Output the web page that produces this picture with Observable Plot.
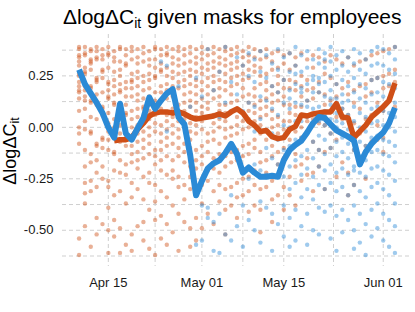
<!DOCTYPE html>
<html><head><meta charset="utf-8">
<script src="https://cdn.jsdelivr.net/npm/d3@7"></script>
<script src="https://cdn.jsdelivr.net/npm/@observablehq/plot@0.6"></script>
<style>
body{margin:0;background:#fff;font-family:"Liberation Sans",Arial,sans-serif;}
#wrap{position:relative;width:415px;height:312px;overflow:hidden;}
#title{position:absolute;left:63px;top:6px;font-size:21px;line-height:22px;white-space:nowrap;color:#000;}
#title sub{font-size:14px;vertical-align:-4px;line-height:0;}
#ylab{position:absolute;left:10px;top:151px;transform:translate(-50%,-50%) rotate(-90deg);font-size:18px;line-height:19px;white-space:nowrap;color:#000;}
#ylab sub{font-size:12.5px;vertical-align:-3px;line-height:0;}
#chart{position:absolute;left:0;top:0;}
</style></head><body>
<div id="wrap"><div id="chart"></div>
<div id="title">ΔlogΔC<sub>it</sub> given masks for employees</div>
<div id="ylab">ΔlogΔC<sub>it</sub></div></div>
<script>
// days: Apr 10 .. Jun 3 (55 days)
const startDay = "2020-04-10";
const nDays = 55;
const xTicks = ["2020-04-15","2020-05-01","2020-05-15","2020-06-01"];
const xMinor = ["2020-04-23","2020-05-08","2020-05-23T12:00"];
const yTicks = [0.25, 0, -0.25, -0.5];
const yMinor = [0.375, 0.125, -0.125, -0.375, -0.625];

// daily averaged lines
const blueLine = [0.28,0.21,0.165,0.12,0.07,0.0,-0.05,0.115,-0.03,-0.06,-0.005,0.045,0.145,0.09,0.13,0.165,0.185,0.05,0.015,-0.135,-0.33,-0.26,-0.2,-0.175,-0.16,-0.125,-0.08,-0.13,-0.22,-0.195,-0.22,-0.24,-0.24,-0.235,-0.24,-0.16,-0.11,-0.085,-0.065,-0.025,0.02,0.05,0.045,0.015,-0.015,-0.03,-0.045,-0.065,-0.18,-0.12,-0.08,-0.05,-0.025,0.02,0.095];
const orangeLine = [null,null,null,null,null,null,-0.065,-0.06,-0.06,-0.05,-0.01,0.02,0.055,0.07,0.075,0.075,0.07,0.075,0.065,0.05,0.04,0.045,0.05,0.055,0.065,0.055,0.075,0.09,0.07,0.03,0.01,-0.02,-0.015,-0.045,-0.055,-0.05,-0.01,0.005,0.06,0.055,0.065,0.07,0.075,0.075,0.115,0.05,0.045,-0.05,-0.02,0.01,0.05,0.075,0.1,0.13,0.215];

// individual observations per day (hundredths)
const orangePts = [
"39 38 35 34 32 30 26 25 22 20 18 17 14 8 0 -3 -8 -54 -62",
"39 36 35 29 27 26 21 20 18 15 13 9 3 -1 -11 -19 -27 -32 -37 -48",
"38 37 33 32 31 28 20 19 13 12 5 -2 -3 -13 -17 -26 -31 -58",
"39 37 34 33 24 23 22 16 12 11 4 -8 -9 -16 -22 -29 -44 -52",
"38 35 33 28 27 24 17 10 9 6 -5 -6 -10 -19 -25 -47",
"39 36 35 29 22 21 18 15 14 7 2 -2 -6 -11 -26 -29 -39 -50 -61",
"37 34 32 27 23 20 16 12 11 4 0 -4 -12 -13 -21 -33 -45 -53",
"39 38 32 28 25 21 18 17 9 5 1 -3 -7 -16 -22 -31 -49 -61",
"38 35 31 30 22 19 15 11 7 6 -1 -5 -9 -18 -23 -37 -57",
"39 37 33 26 23 22 19 15 8 4 0 -4 -9 -13 -17 -27 -34 -52 -60",
"38 34 31 27 24 20 16 13 9 5 1 -3 -7 -12 -16 -20 -30 -48",
"39 36 32 25 22 18 14 10 9 2 -2 -6 -10 -15 -24 -35 -46 -55",
"37 33 30 26 23 19 15 11 8 4 0 -4 -8 -13 -22 -27 -40 -59",
"39 38 33 29 25 24 17 13 10 6 2 -2 -11 -14 -18 -28 -36 -45 -62",
"38 35 31 28 27 20 17 13 9 1 -3 -7 -11 -16 -21 -31 -43 -54",
"39 36 35 29 25 21 18 14 6 3 -1 -5 -9 -14 -23 -34 -47 -57",
"38 34 31 27 24 20 16 15 9 5 1 -3 -8 -16 -21 -25 -38 -51",
"39 37 33 30 26 22 19 11 7 3 -1 -5 -10 -14 -24 -29 -42 -60",
"38 35 31 27 23 20 16 12 8 4 0 -8 -12 -17 -28 -35 -46",
"39 36 32 28 25 21 17 13 10 2 -2 -6 -10 -19 -24 -30 -49 -58",
"38 34 31 27 23 20 16 12 8 5 1 -3 -11 -16 -20 -33 -44 -55",
"39 36 33 29 26 22 18 14 10 7 3 -1 -9 -14 -18 -28 -37 -49",
"38 35 31 28 24 20 16 12 9 5 -3 -7 -12 -21 -26 -42",
"39 36 32 29 25 22 18 14 6 2 -2 -6 -15 -20 -31 -47",
"38 34 31 27 23 19 15 11 8 4 0 -8 -13 -22 -28 -36",
"39 37 33 30 26 22 18 11 7 3 -1 -5 -14 -19 -30 -40 -52",
"38 35 31 28 24 20 16 12 8 0 -4 -12 -17 -29 -38",
"39 36 32 29 25 21 13 9 5 1 -3 -11 -16 -27 -34 -44",
"37 34 30 26 23 19 15 7 3 -1 -9 -14 -25 -33",
"39 35 32 28 24 16 12 8 4 0 -8 -13 -24 -31 -41",
"38 34 30 27 19 15 11 7 3 -6 -10 -21 -28 -38",
"37 33 29 25 21 13 9 5 1 -3 -12 -17 -30 -40 -51",
"38 34 26 22 18 14 10 6 -2 -6 -16 -22 -29",
"36 32 28 20 16 12 8 4 0 -9 -14 -26 -35 -46",
"37 29 25 21 17 13 5 1 -3 -12 -18 -33",
"35 31 23 19 15 11 3 -1 -10 -15 -29 -40",
"36 28 23 19 11 7 3 -6 -11 -24 -33",
"34 30 22 18 10 6 -2 -13 -19 -38",
"36 25 20 15 10 0 -5 -18 -26",
"33 23 18 13 3 -2 -15 -23",
"35 29 19 14 4 -7 -22 -31",
"34 22 17 7 2 -11 -19",
"32 26 16 11 1 -12 -30",
"35 24 13 8 -3 -10",
"33 21 15 5 -6 -24",
"31 19 9 4 -17",
"34 22 16 6 -5 -22 -33",
"30 18 12 2 -11 -28",
"32 20 9 -3 -18",
"33 21 15 4 -9 -25",
"35 23 17 6 -7",
"36 24 12 1 -6",
"37 25 19 8 -5 -12",
"38 26 20 14",
"39 28 22 10"
];
const bluePts = [
"","","","","","","","","","","","","","","32",
"30 -2","","20","","10 -14","24 -30 -57","15 -38 -55","38 -39 -44","18 -46 -60","27 5 -42 -61",
"39 12 -52","22 -33 -55","34 16 -15 -48","30 8 -22 -38 -58","36 25 12 -25 -45",
"33 22 10 -2 -18 -50","37 27 15 4 -21 -36 -56","35 24 13 -10 -23 -39","31 20 9 -3 -15 -42 -60","38 28 17 6 -6 -18 -47",
"34 23 12 1 -11 -24 -38 -53","36 27 18 14 9 0 -9 -19 -30 -44 -58","39 30 26 21 12 3 -6 -16 -27 -40 -55","35 27 19 17 11 3 -5 -14 -23 -34 -48","37 29 21 13 10 5 -3 -11 -20 -30 -42 -57",
"33 25 23 17 9 1 -7 -15 -24 -35 -50","38 31 24 21 17 10 3 -4 -11 -19 -28 -39 -52","36 33 29 22 15 8 6 1 -6 -13 -21 -30 -41","39 32 25 18 14 11 4 -3 -10 -18 -27 -38 -54","35 28 21 14 7 3 0 -7 -14 -22 -31 -43 -60",
"37 30 23 16 12 9 2 -5 -12 -20 -29 -40 -51","34 27 20 13 6 -1 -4 -8 -15 -23 -33 -45","38 31 24 17 10 3 -4 -11 -19 -21 -28 -38 -50 -59","36 28 21 14 7 0 -7 -14 -17 -22 -31 -42 -56","33 26 19 12 5 -2 -9 -16 -24 -34 -47 -62",
"37 30 23 16 9 2 -5 -12 -20 -29 -40 -53","39 31 24 17 10 3 -4 -11 -19 -27 -37 -49","38 30 22 15 8 1 -6 -13 -21 -30 -42 -55","36 28 21 14 7 0 -7 -14 -23 -33 -45 -58","39 33 26 19 12 5 -2 -9 -17 -26 -37 -48 -61"
];

const ORANGE = "#cf4f17", BLUE = "#2b8ad6";
const days = d3.utcDay.range(new Date(startDay), d3.utcDay.offset(new Date(startDay), nDays));
const toPts = (arr, group) => arr.flatMap((s, i) => s.trim() === "" ? [] :
  s.trim().split(/\s+/).map(v => ({date: days[i], value: +v / 100, group})));
const ptsO = toPts(orangePts, "o");
const ptsB = toPts(bluePts, "b");
const lineB = days.map((d, i) => ({date: d, value: blueLine[i]}));
const lineO = days.map((d, i) => ({date: d, value: orangeLine[i]})).filter(d => d.value != null);

const grid = {stroke: "#cfcfcf", strokeWidth: 1, strokeDasharray: "4,3"};
const chart = Plot.plot({
  width: 415, height: 312,
  marginLeft: 62, marginRight: 4, marginTop: 34, marginBottom: 46,
  style: {fontFamily: "'Liberation Sans', Arial, sans-serif", fontSize: "13px", color: "#1a1a1a", background: "transparent"},
  x: {type: "utc", domain: [new Date("2020-04-07T04:00"), new Date("2020-06-05T20:00")],
      ticks: xTicks.map(d => new Date(d)), tickFormat: d3.utcFormat("%b %d"), tickSize: 0, tickPadding: 11, label: null},
  y: {domain: [-0.676, 0.451], ticks: yTicks, tickFormat: v => v.toFixed(2), tickSize: 0, tickPadding: 9, label: null},
  marks: [
    Plot.ruleY(yMinor, grid),
    Plot.ruleY(yTicks, grid),
    Plot.ruleX(xMinor.map(d => new Date(d)), grid),
    Plot.ruleX(xTicks.map(d => new Date(d)), grid),
    Plot.dot(ptsO, {x: "date", y: "value", r: 2.2, fill: ORANGE, fillOpacity: 0.45, stroke: null}),
    Plot.dot(ptsB, {x: "date", y: "value", r: 2.2, fill: BLUE, fillOpacity: 0.45, stroke: null}),
    Plot.line(lineO, {x: "date", y: "value", stroke: ORANGE, strokeWidth: 5.5, strokeLinejoin: "round", strokeLinecap: "butt"}),
    Plot.line(lineB, {x: "date", y: "value", stroke: BLUE, strokeWidth: 6, strokeLinejoin: "round", strokeLinecap: "butt"})
  ]
});
document.getElementById("chart").appendChild(chart);
</script>
</body></html>
